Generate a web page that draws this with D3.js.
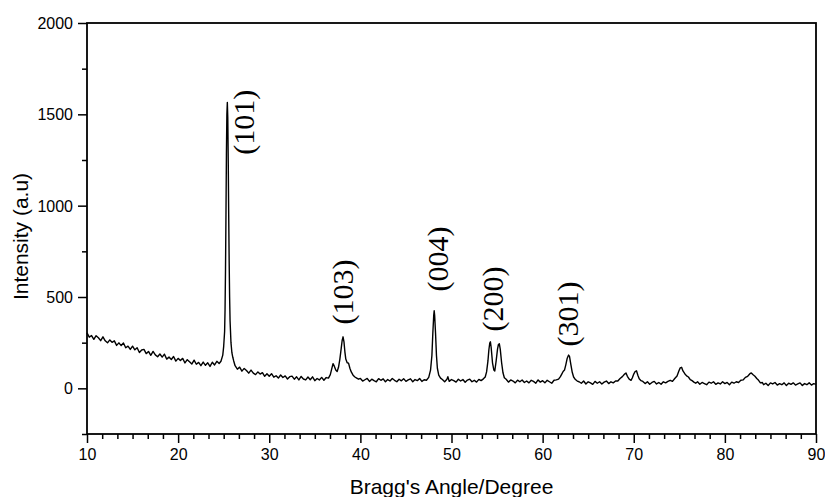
<!DOCTYPE html>
<html>
<head>
<meta charset="utf-8">
<script src="https://cdn.jsdelivr.net/npm/d3@7"></script>
<style>
  html, body { margin: 0; padding: 0; background: #fff; }
  svg { display: block; }
</style>
</head>
<body>
<svg id="chart" width="825" height="497"></svg>
<script>
// ---- data ----
const xTicks = [10, 20, 30, 40, 50, 60, 70, 80, 90];
const yTicks = [0, 500, 1000, 1500, 2000];
const xDomain = [10, 90];
const yDomain = [-250, 2000];
const xTitle = "Bragg's Angle/Degree";
const yTitle = "Intensity (a.u)";

// XRD pattern [2θ, intensity]
const pattern = [
  [10.00,304],[10.25,280],[10.50,289],[10.75,268],[11.00,288],[11.25,277],[11.50,261],[11.75,282],
  [12.00,260],[12.25,249],[12.50,265],[12.75,252],[13.00,260],[13.25,235],[13.50,249],[13.75,234],
  [14.00,248],[14.25,222],[14.50,231],[14.75,213],[15.00,231],[15.25,211],[15.50,222],[15.75,196],
  [16.00,210],[16.25,213],[16.50,190],[16.75,202],[17.00,181],[17.25,202],[17.50,183],[17.75,173],
  [18.00,188],[18.25,171],[18.50,187],[18.75,160],[19.00,171],[19.25,158],[19.50,174],[19.75,149],
  [20.00,164],[20.25,152],[20.50,164],[20.75,139],[21.00,157],[21.25,145],[21.50,133],[21.75,154],
  [22.00,132],[22.25,142],[22.50,124],[22.75,144],[23.00,126],[23.25,140],[23.50,120],[23.75,143],
  [24.00,128],[24.25,148],[24.50,136],[24.70,148],[24.90,182],[25.00,230],[25.10,310],[25.15,430],
  [25.20,650],[25.25,950],[25.30,1280],[25.35,1500],[25.40,1565],[25.45,1480],[25.50,1240],[25.55,950],
  [25.60,700],[25.65,500],[25.70,370],[25.80,250],[25.90,195],[26.00,170],[26.10,150],[26.25,124],
  [26.50,105],[26.75,116],[27.00,94],[27.25,109],[27.50,98],[27.75,83],[28.00,100],[28.25,83],
  [28.50,75],[28.75,90],[29.00,78],[29.25,86],[29.50,66],[29.75,80],[30.00,66],[30.25,80],
  [30.50,61],[30.75,69],[31.00,56],[31.25,73],[31.50,59],[31.75,68],[32.00,51],[32.25,64],
  [32.50,67],[32.75,50],[33.00,63],[33.25,46],[33.50,65],[33.75,51],[34.00,46],[34.25,62],
  [34.50,47],[34.75,63],[35.00,42],[35.25,54],[35.50,46],[35.75,60],[36.00,44],[36.25,59],
  [36.50,56],[36.70,75],[36.85,105],[37.00,135],[37.15,120],[37.30,100],[37.45,92],[37.60,115],
  [37.75,160],[37.90,220],[38.00,262],[38.10,282],[38.20,255],[38.30,200],[38.40,160],[38.55,140],
  [38.70,138],[38.85,110],[39.00,90],[39.20,72],[39.40,62],[39.60,56],[39.80,50],[40.00,54],
  [40.25,40],[40.50,47],[40.75,54],[41.00,38],[41.25,50],[41.50,42],[41.75,36],[42.00,53],
  [42.25,44],[42.50,52],[42.75,36],[43.00,48],[43.25,40],[43.50,54],[43.75,44],[44.00,36],
  [44.25,50],[44.50,41],[44.75,53],[45.00,38],[45.25,46],[45.50,52],[45.75,36],[46.00,48],
  [46.25,42],[46.50,54],[46.75,38],[47.00,47],[47.25,44],[47.50,60],[47.70,100],[47.85,180],
  [47.95,300],[48.05,400],[48.10,425],[48.15,400],[48.25,300],[48.35,180],[48.45,110],[48.60,72],
  [48.80,56],[49.00,48],[49.25,36],[49.50,50],[49.60,64],[49.75,38],[50.00,48],[50.25,42],
  [50.50,34],[50.75,50],[51.00,40],[51.25,48],[51.50,33],[51.75,45],[52.00,50],[52.25,36],
  [52.50,44],[52.75,34],[53.00,49],[53.25,42],[53.50,52],[53.70,62],[53.85,90],[54.00,150],
  [54.10,210],[54.20,248],[54.27,255],[54.35,225],[54.50,140],[54.65,100],[54.75,95],[54.90,150],
  [55.05,215],[55.15,240],[55.25,244],[55.35,215],[55.50,140],[55.65,85],[55.80,58],[56.00,50],
  [56.25,34],[56.50,46],[56.75,40],[57.00,30],[57.25,45],[57.50,36],[57.75,46],[58.00,32],
  [58.25,40],[58.50,30],[58.75,44],[59.00,38],[59.25,28],[59.50,46],[59.75,34],[60.00,42],
  [60.25,30],[60.50,44],[60.75,36],[61.00,28],[61.25,44],[61.50,46],[61.75,50],[61.95,64],
  [62.10,78],[62.25,92],[62.40,100],[62.55,130],[62.70,165],[62.85,182],[62.95,175],[63.10,130],
  [63.25,88],[63.40,62],[63.60,48],[63.80,40],[64.00,36],[64.25,28],[64.50,40],[64.75,24],
  [65.00,36],[65.25,30],[65.50,22],[65.75,38],[66.00,28],[66.25,36],[66.50,24],[66.75,34],
  [67.00,40],[67.25,26],[67.50,36],[67.75,30],[68.00,40],[68.25,40],[68.50,54],[68.75,64],
  [69.00,78],[69.15,84],[69.30,66],[69.50,50],[69.70,44],[69.85,58],[70.00,78],[70.15,92],
  [70.30,96],[70.45,72],[70.60,52],[70.80,42],[71.00,38],[71.25,26],[71.50,36],[71.75,22],
  [72.00,32],[72.25,38],[72.50,24],[72.75,32],[73.00,22],[73.25,36],[73.50,30],[73.75,38],
  [74.00,44],[74.25,38],[74.50,54],[74.75,68],[74.95,95],[75.10,112],[75.25,115],[75.40,95],
  [75.60,80],[75.80,68],[76.00,62],[76.20,48],[76.40,42],[76.60,34],[76.80,28],[77.00,36],
  [77.25,22],[77.50,32],[77.75,26],[78.00,20],[78.25,34],[78.50,28],[78.75,36],[79.00,22],
  [79.25,30],[79.50,24],[79.75,36],[80.00,26],[80.25,32],[80.50,20],[80.75,34],[81.00,28],
  [81.25,36],[81.50,32],[81.75,44],[82.00,46],[82.25,60],[82.50,66],[82.75,80],[82.90,84],
  [83.10,74],[83.30,66],[83.50,54],[83.70,44],[83.90,30],[84.10,32],[84.25,20],[84.50,28],
  [84.75,16],[85.00,30],[85.25,24],[85.50,32],[85.75,18],[86.00,26],[86.25,20],[86.50,30],
  [86.75,16],[87.00,28],[87.25,22],[87.50,30],[87.75,18],[88.00,24],[88.25,30],[88.50,16],
  [88.75,26],[89.00,20],[89.25,30],[89.50,18],[89.75,26],[90.00,22]
];

// peak labels: text and anchor point in data units (2θ, intensity)
const peakLabels = ["(101)", "(103)", "(004)", "(200)", "(301)"];
const peakLabelAngle = [28.38, 39.19, 49.62, 55.65, 63.88];
const peakLabelIntensity = [1279, 349, 530, 311, 229];

// ---- layout ----
const W = 825, H = 497;
const margin = { top: 23, right: 9, bottom: 63, left: 87 };
const iw = W - margin.left - margin.right;
const ih = H - margin.top - margin.bottom;

const svg = d3.select("#chart");
const g = svg.append("g").attr("transform", `translate(${margin.left},${margin.top})`);

const x = d3.scaleLinear().domain(xDomain).range([0, iw]);
const y = d3.scaleLinear().domain(yDomain).range([ih, 0]);

const font = "Arial, 'Liberation Sans', Helvetica, sans-serif";

// minor ticks (5 between majors on x, 1 between majors on y)
const xMinor = [];
xTicks.slice(0, -1).forEach(t => { for (let k = 1; k < 6; k++) xMinor.push(t + k * 10 / 6); });
const yMinor = [-250, 250, 750, 1250, 1750];

const xMinorAxis = g.append("g").attr("transform", `translate(0,${ih})`)
  .call(d3.axisBottom(x).tickValues(xMinor).tickSize(5).tickFormat(""));
const yMinorAxis = g.append("g")
  .call(d3.axisLeft(y).tickValues(yMinor).tickSize(5).tickFormat(""));

const xAxis = g.append("g").attr("transform", `translate(0,${ih})`)
  .call(d3.axisBottom(x).tickValues(xTicks).tickSize(9).tickPadding(5).tickFormat(d3.format("d")));
const yAxis = g.append("g")
  .call(d3.axisLeft(y).tickValues(yTicks).tickSize(9).tickPadding(5).tickFormat(d3.format("d")));

[xMinorAxis, yMinorAxis, xAxis, yAxis].forEach(a => {
  a.select(".domain").remove();
  a.selectAll(".tick line").attr("stroke", "#000").attr("stroke-width", 1.5);
  a.selectAll(".tick text").attr("fill", "#000").style("font-family", font).style("font-size", "16px");
});
xAxis.selectAll(".tick text").attr("dy", "0.75em");
yAxis.selectAll(".tick text").attr("dy", "0.35em");

// frame
g.append("rect").attr("x", 0).attr("y", 0).attr("width", iw).attr("height", ih)
  .attr("fill", "none").attr("stroke", "#000").attr("stroke-width", 1.8);

// pattern line
const line = d3.line().x(d => x(d[0])).y(d => y(d[1]));
g.append("path").datum(pattern)
  .attr("fill", "none").attr("stroke", "#000").attr("stroke-width", 1.4)
  .attr("stroke-linejoin", "round").attr("d", line);

// peak labels
peakLabels.forEach((t, i) => {
  g.append("text")
    .attr("transform", `translate(${x(peakLabelAngle[i])},${y(peakLabelIntensity[i])}) rotate(-90)`)
    .attr("text-anchor", "start")
    .style("font-family", "'Liberation Serif', 'Times New Roman', serif")
    .style("font-size", "30px")
    .attr("fill", "#000")
    .text(t);
});

// axis titles
svg.append("text")
  .attr("x", margin.left + iw / 2)
  .attr("y", 494)
  .attr("text-anchor", "middle")
  .style("font-family", font).style("font-size", "21px")
  .text(xTitle);

svg.append("text")
  .attr("transform", `translate(28,${margin.top + ih / 2 + 8}) rotate(-90)`)
  .attr("text-anchor", "middle")
  .style("font-family", font).style("font-size", "21px")
  .text(yTitle);
</script>
</body>
</html>
